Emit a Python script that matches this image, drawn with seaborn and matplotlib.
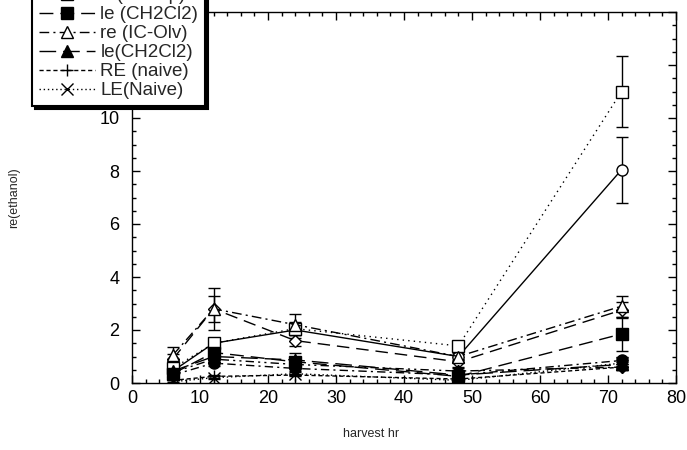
import numpy as np
import pandas as pd
import matplotlib
matplotlib.use('Agg')
import matplotlib.pyplot as plt
import seaborn as sns

# harvest times (hr)
hours = [6, 12, 24, 48, 72]

# one list per series
re_eth = [0.45, 1.5, 2.0, 1.0, 8.05]
re_eth_err = [0.15, 0.2, 0.3, 0.15, 1.25]
le_eth = [0.3, 0.75, 0.55, 0.3, 0.85]
le_eth_err = [0.1, 0.1, 0.1, 0.1, 0.15]
re_hex = [0.9, 2.8, 1.6, 0.8, 2.75]
re_hex_err = [0.2, 0.5, 0.2, 0.2, 0.3]
le_hex = [0.4, 0.9, 0.7, 0.45, 0.6]
le_hex_err = [0.1, 0.1, 0.1, 0.1, 0.1]
re_fheap = [0.55, 1.5, 2.05, 1.4, 11.0]
re_fheap_err = [0.2, 0.2, 0.2, 0.15, 1.35]
le_ch2cl2 = [0.35, 1.15, 0.8, 0.25, 1.85]
le_ch2cl2_err = [0.1, 0.2, 0.2, 0.1, 0.65]
re_icolv = [1.05, 2.8, 2.2, 1.0, 2.9]
re_icolv_err = [0.3, 0.8, 0.4, 0.2, 0.4]
le2_ch2cl2 = [0.45, 1.0, 0.87, 0.3, 0.7]
le2_ch2cl2_err = [0.1, 0.15, 0.26, 0.1, 0.1]
re_naive = [0.1, 0.25, 0.3, 0.15, 0.6]
re_naive_err = [0.05, 0.05, 0.05, 0.05, 0.1]
le_naive = [0.05, 0.2, 0.35, 0.1, 0.75]
le_naive_err = [0.05, 0.05, 0.05, 0.05, 0.1]

labels = ['re(ethanol)', 'le(ethanol)', 're(Hexane)', 'le(Hexane)',
          're(FHeap)', 'le (CH2Cl2)', 're (IC-Olv)', 'le(CH2Cl2)',
          'RE (naive)', 'LE(Naive)']

series = [re_eth, le_eth, re_hex, le_hex, re_fheap, le_ch2cl2,
          re_icolv, le2_ch2cl2, re_naive, le_naive]
errors = [re_eth_err, le_eth_err, re_hex_err, le_hex_err, re_fheap_err,
          le_ch2cl2_err, re_icolv_err, le2_ch2cl2_err, re_naive_err, le_naive_err]

# (marker, open?, linestyle)
styles = [
    ('o', True, '-'),
    ('o', False, (0, (6, 3, 1.5, 3))),
    ('D', True, (0, (9, 5))),
    ('D', False, (0, (6, 3, 1.5, 3, 1.5, 3))),
    ('s', True, (0, (1, 3))),
    ('s', False, (0, (10, 5))),
    ('^', True, (0, (7, 3, 1.5, 3))),
    ('^', False, (0, (12, 5))),
    ('+', False, (0, (3, 2))),
    ('x', False, (0, (1, 2))),
]

sns.set_style('ticks')
plt.rcParams['font.family'] = ['Liberation Sans', 'DejaVu Sans']

fig = plt.figure(figsize=(6.87, 4.5), dpi=100)
ax = fig.add_axes([132/687, 1 - 383/450, 544/687, 371/450])

for vals, err, lab, (mk, hollow, ls) in zip(series, errors, labels, styles):
    df = pd.DataFrame({'hr': hours, 'val': vals})
    ax.errorbar(hours, vals, yerr=err, fmt='none', ecolor='black',
                elinewidth=1.0, capsize=4, capthick=1.0, zorder=2)
    ms = 6.5 if mk == 'D' else 8
    sns.lineplot(data=df, x='hr', y='val', ax=ax, color='black',
                 linestyle=ls, linewidth=1.0, marker=mk, markersize=ms,
                 markerfacecolor='white' if hollow else 'black',
                 markeredgecolor='black', markeredgewidth=1.0,
                 errorbar=None, label=lab, legend=False, zorder=3)

ax.set_xlim(0, 80)
ax.set_ylim(0, 14)
ax.set_xticks(np.arange(0, 81, 10))
ax.set_xticks(np.arange(0, 81, 2), minor=True)
ax.set_yticks(np.arange(0, 15, 2))
ax.set_yticks(np.arange(0, 14.1, 0.5), minor=True)
ax.tick_params(which='both', direction='in', top=True, right=True,
               color='black', width=1.0)
ax.tick_params(which='major', length=6, labelsize=13, labelcolor='black')
ax.tick_params(which='minor', length=3)
ax.tick_params(axis='y', which='major', pad=9)
ax.tick_params(axis='x', which='major', pad=5)
for sp in ax.spines.values():
    sp.set_visible(True)
    sp.set_color('black')
    sp.set_linewidth(1.0)

ax.set_xlabel('harvest hr', fontsize=9)
ax.set_ylabel('re(ethanol)', fontsize=9)
ax.xaxis.set_label_coords((371 - 132) / 544, -0.12)
ax.yaxis.set_label_coords((20 - 132) / 544, 0.5)

handles, hl = ax.get_legend_handles_labels()
leg = fig.legend(handles, hl, loc='lower left',
                 bbox_to_anchor=(32/687, 1 - 106/450), borderaxespad=0,
                 fontsize=13.5, labelspacing=0.1, handlelength=3.0,
                 handletextpad=0.3, borderpad=0.35, fancybox=False,
                 frameon=True, framealpha=1, edgecolor='black',
                 shadow={'color': 'black', 'alpha': 1})
leg.get_frame().set_linewidth(1.5)

fig.savefig('out.png', dpi=100)
